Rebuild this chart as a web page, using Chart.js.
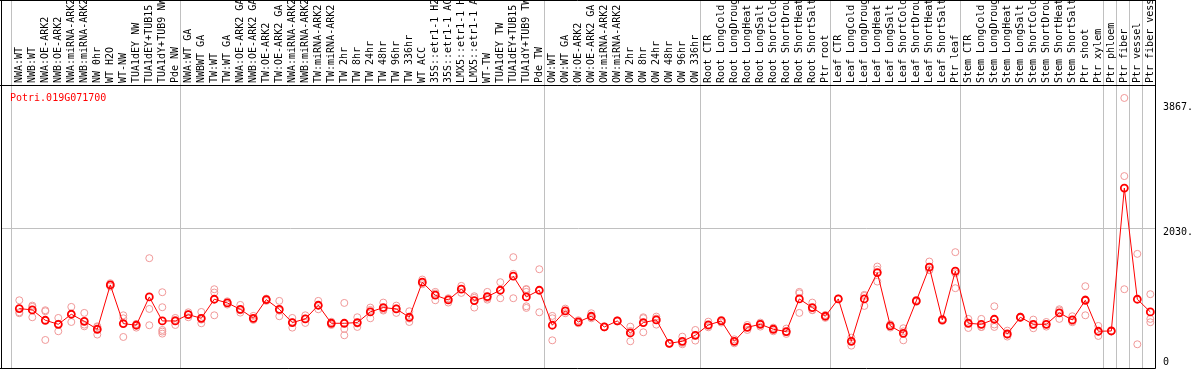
<!DOCTYPE html>
<html>
<head>
<meta charset="utf-8">
<script src="https://cdn.jsdelivr.net/npm/chart.js"></script>
<style>
  body { margin: 0; background: #ffffff; }
  #wrap { width: 1194px; height: 370px; }
</style>
</head>
<body>
<div id="wrap"><canvas id="expr" width="1194" height="370"></canvas></div>
<script>
// sample names, in plot order
var categories = [
  "NWA:WT", "NWB:WT", "NWA:OE-ARK2", "NWB:OE-ARK2", "NWA:miRNA-ARK2", "NWB:miRNA-ARK2", "NW 0hr", "WT H2O", "WT-NW",
  "TUA1dEY NW", "TUA1dEY+TUB15", "TUA1dY+TUB9 NW", "Pde NW",
  "NWA:WT GA", "NWBWT GA", "TW:WT", "TW:WT GA", "NWA:OE-ARK2 GA", "NWB:OE-ARK2 GA", "TW:OE-ARK2", "TW:OE-ARK2 GA",
  "NWA:miRNA-ARK2", "NWB:miRNA-ARK2", "TW:miRNA-ARK2", "TW:miRNA-ARK2", "TW 2hr", "TW 8hr", "TW 24hr", "TW 48hr",
  "TW 96hr", "TW 336hr", "WT ACC", "35S::etr1-1 H2O", "35S::etr1-1 ACC", "LMX5::etr1-1 H2O", "LMX5::etr1-1 ACC",
  "WT-TW", "TUA1dEY TW", "TUA1dEY+TUB15", "TUA1dY+TUB9 TW", "Pde TW",
  "OW:WT", "OW:WT GA", "OW:OE-ARK2", "OW:OE-ARK2 GA", "OW:miRNA-ARK2", "OW:miRNA-ARK2", "OW 2hr", "OW 8hr",
  "OW 24hr", "OW 48hr", "OW 96hr", "OW 336hr",
  "Root CTR", "Root LongCold", "Root LongDrought", "Root LongHeat", "Root LongSalt", "Root ShortCold",
  "Root ShortDrought", "Root ShortHeat", "Root ShortSalt", "Ptr root",
  "Leaf CTR", "Leaf LongCold", "Leaf LongDrought", "Leaf LongHeat", "Leaf LongSalt", "Leaf ShortCold",
  "Leaf ShortDrought", "Leaf ShortHeat", "Leaf ShortSalt", "Ptr leaf",
  "Stem CTR", "Stem LongCold", "Stem LongDrought", "Stem LongHeat", "Stem LongSalt", "Stem ShortCold",
  "Stem ShortDrought", "Stem ShortHeat", "Stem ShortSalt", "Ptr shoot", "Ptr xylem",
  "Ptr phloem", "Ptr fiber", "Ptr vessel", "Ptr fiber vessel"
];

// first sample of each experiment group (gray separators)
var groupStarts = [0, 13, 41, 53, 63, 73, 84, 85, 86, 87];

// mean expression per sample
var means = [
  853, 834, 682, 623, 770, 667, 550, 1200, 633, 609, 1024, 672, 672,
  765, 711, 990, 936, 843, 711, 985, 843, 648, 702, 902, 638, 638, 648, 804, 868,
  848, 726, 1240, 1049, 980, 1137, 971, 1029, 1122, 1328, 1024, 1122,
  609, 819, 657, 741, 584, 672, 496, 648, 687, 344, 374, 462,
  613, 672, 374, 579, 623, 550, 516, 995, 868, 741,
  995, 374, 995, 1381, 599, 491, 966, 1460, 687, 1401,
  638, 623, 697, 481, 726, 623, 623, 790, 687, 975, 521,
  525, 2619, 990, 804
];

// single replicates per sample
var replicates = [
  [975, 799, 785], [897, 879, 726], [829, 814, 393], [716, 632, 521], [878, 775, 657],
  [790, 593, 618], [594, 584, 472], [1225, 1200, 1176], [755, 711, 437], [628, 625, 574],
  [1592, 848, 609], [1093, 873, 540, 516, 486], [716, 687, 613],
  [799, 770, 726], [804, 691, 638], [1137, 1088, 755], [960, 936, 912], [907, 828, 794],
  [746, 700, 687], [1000, 989, 966], [966, 822, 741], [716, 654, 574], [755, 708, 643],
  [966, 897, 843], [660, 641, 613], [936, 555, 462], [726, 634, 584], [868, 833, 711],
  [941, 839, 824], [897, 857, 790], [814, 707, 657], [1279, 1231, 1210], [1098, 1074, 975],
  [1005, 994, 941], [1186, 1142, 1083], [1034, 1011, 868], [1098, 1005, 984], [1240, 1122, 1005],
  [1607, 1362, 1005], [1140, 1132, 1098, 887, 863], [1430, 799],
  [746, 711, 388], [853, 819, 785], [682, 651, 638], [785, 727, 711], [590, 584, 578],
  [680, 672, 664], [589, 525, 374], [726, 712, 506], [736, 707, 618], [350, 344, 338],
  [442, 350, 330], [540, 462, 384],
  [662, 598, 579], [687, 681, 648], [403, 375, 344], [613, 584, 540], [648, 632, 589],
  [574, 555, 521], [560, 482, 506], [1098, 1078, 790], [941, 829, 834], [760, 746, 717],
  [1000, 995, 990], [428, 384, 310], [1054, 1039, 892], [1469, 1425, 1249], [623, 599, 575],
  [565, 520, 388], [980, 966, 952], [1543, 1416, 1421], [702, 687, 672], [1680, 1371, 1152],
  [702, 643, 569], [702, 583, 584], [887, 620, 584], [530, 470, 443], [735, 726, 717],
  [692, 612, 565], [657, 623, 589], [843, 825, 702], [741, 667, 653], [1181, 989, 755],
  [599, 512, 452],
  [530, 525, 520], [3940, 2795, 1137], [1655, 330], [1064, 702, 653]
];

var yTicks = [0, 2030, 3867];
var geneName = "Potri.019G071700";

var FONT = '10px "DejaVu Sans Mono"';

var meanPoints = means.map(function(v, i) { return { x: i, y: v }; });
var repPoints = [];
replicates.forEach(function(list, i) {
  list.forEach(function(v) { repPoints.push({ x: i, y: v }); });
});

// frame, separators, labels around the plot
var framePlugin = {
  id: "frame",
  beforeDatasetsDraw: function(chart) {
    var ctx = chart.ctx, a = chart.chartArea;
    var xs = chart.scales.x, ys = chart.scales.y;
    ctx.save();
    ctx.lineWidth = 1;
    ctx.strokeStyle = "#c0c0c0";
    // separators run from the top of the label band to the bottom
    groupStarts.forEach(function(g) {
      var px = Math.round(xs.getPixelForValue(g) - 8) + 0.5;
      ctx.beginPath();
      ctx.moveTo(px, 0);
      ctx.lineTo(px, a.bottom);
      ctx.stroke();
    });
    // only the middle tick gets a grid line
    var gy = Math.round(ys.getPixelForValue(yTicks[1])) + 0.5;
    ctx.beginPath();
    ctx.moveTo(a.left, gy);
    ctx.lineTo(a.right, gy);
    ctx.stroke();
    ctx.restore();
  },
  afterDraw: function(chart) {
    var ctx = chart.ctx, a = chart.chartArea;
    var xs = chart.scales.x, ys = chart.scales.y;
    var right = Math.round(a.right) + 0.5;
    ctx.save();
    ctx.strokeStyle = "#000000";
    ctx.lineWidth = 1;
    ctx.beginPath();
    ctx.moveTo(1.5, 0); ctx.lineTo(1.5, a.bottom + 0.5);
    ctx.moveTo(0, 0.5); ctx.lineTo(right, 0.5);
    ctx.moveTo(0, Math.round(a.top) + 0.5); ctx.lineTo(right, Math.round(a.top) + 0.5);
    ctx.moveTo(right, 0); ctx.lineTo(right, a.bottom + 0.5);
    ctx.moveTo(0, Math.round(a.bottom) + 0.5); ctx.lineTo(right, Math.round(a.bottom) + 0.5);
    ctx.stroke();

    // sample names, vertical
    ctx.font = FONT;
    ctx.fillStyle = "#000000";
    ctx.textAlign = "left";
    ctx.textBaseline = "middle";
    categories.forEach(function(name, i) {
      ctx.save();
      ctx.translate(xs.getPixelForValue(i) + 0.5, a.top - 2);
      ctx.rotate(-Math.PI / 2);
      ctx.fillText(name, 0, 0);
      ctx.restore();
    });

    // gene id
    ctx.fillStyle = "#ff0000";
    ctx.textBaseline = "alphabetic";
    ctx.fillText(geneName, 10, 100.5);

    // right hand value labels
    ctx.fillStyle = "#000000";
    yTicks.forEach(function(t) {
      var py = ys.getPixelForValue(t);
      var label = t === 0 ? "0" : t + ".";
      if (py + 10 > a.bottom) {
        ctx.textBaseline = "bottom";
        ctx.fillText(label, a.right + 8, a.bottom - 1);
      } else {
        ctx.textBaseline = "top";
        ctx.fillText(label, a.right + 8, py - 1);
      }
    });
    ctx.restore();
  }
};

var ctx = document.getElementById("expr").getContext("2d");
new Chart(ctx, {
  type: "line",
  data: {
    datasets: [
      {
        label: "mean",
        data: meanPoints,
        borderColor: "#ff0000",
        borderWidth: 1,
        pointRadius: 3.5,
        pointBorderWidth: 1.8,
        pointBorderColor: "#ff0000",
        pointBackgroundColor: "rgba(255,255,255,0)",
        tension: 0,
        order: 0
      },
      {
        type: "scatter",
        label: "replicates",
        data: repPoints,
        showLine: false,
        pointRadius: 3.5,
        pointBorderWidth: 1,
        pointBorderColor: "#f09898",
        pointBackgroundColor: "rgba(255,255,255,0)",
        order: 1
      }
    ]
  },
  options: {
    responsive: false,
    animation: false,
    layout: { autoPadding: false, padding: { left: 2, right: 39, top: 85, bottom: 2 } },
    scales: {
      x: { type: "linear", min: -1.331, max: 87.36, display: false },
      y: { type: "linear", min: -17.6, max: 4130, display: false }
    },
    plugins: {
      legend: { display: false },
      tooltip: { enabled: false }
    }
  },
  plugins: [framePlugin]
});
</script>
</body>
</html>
